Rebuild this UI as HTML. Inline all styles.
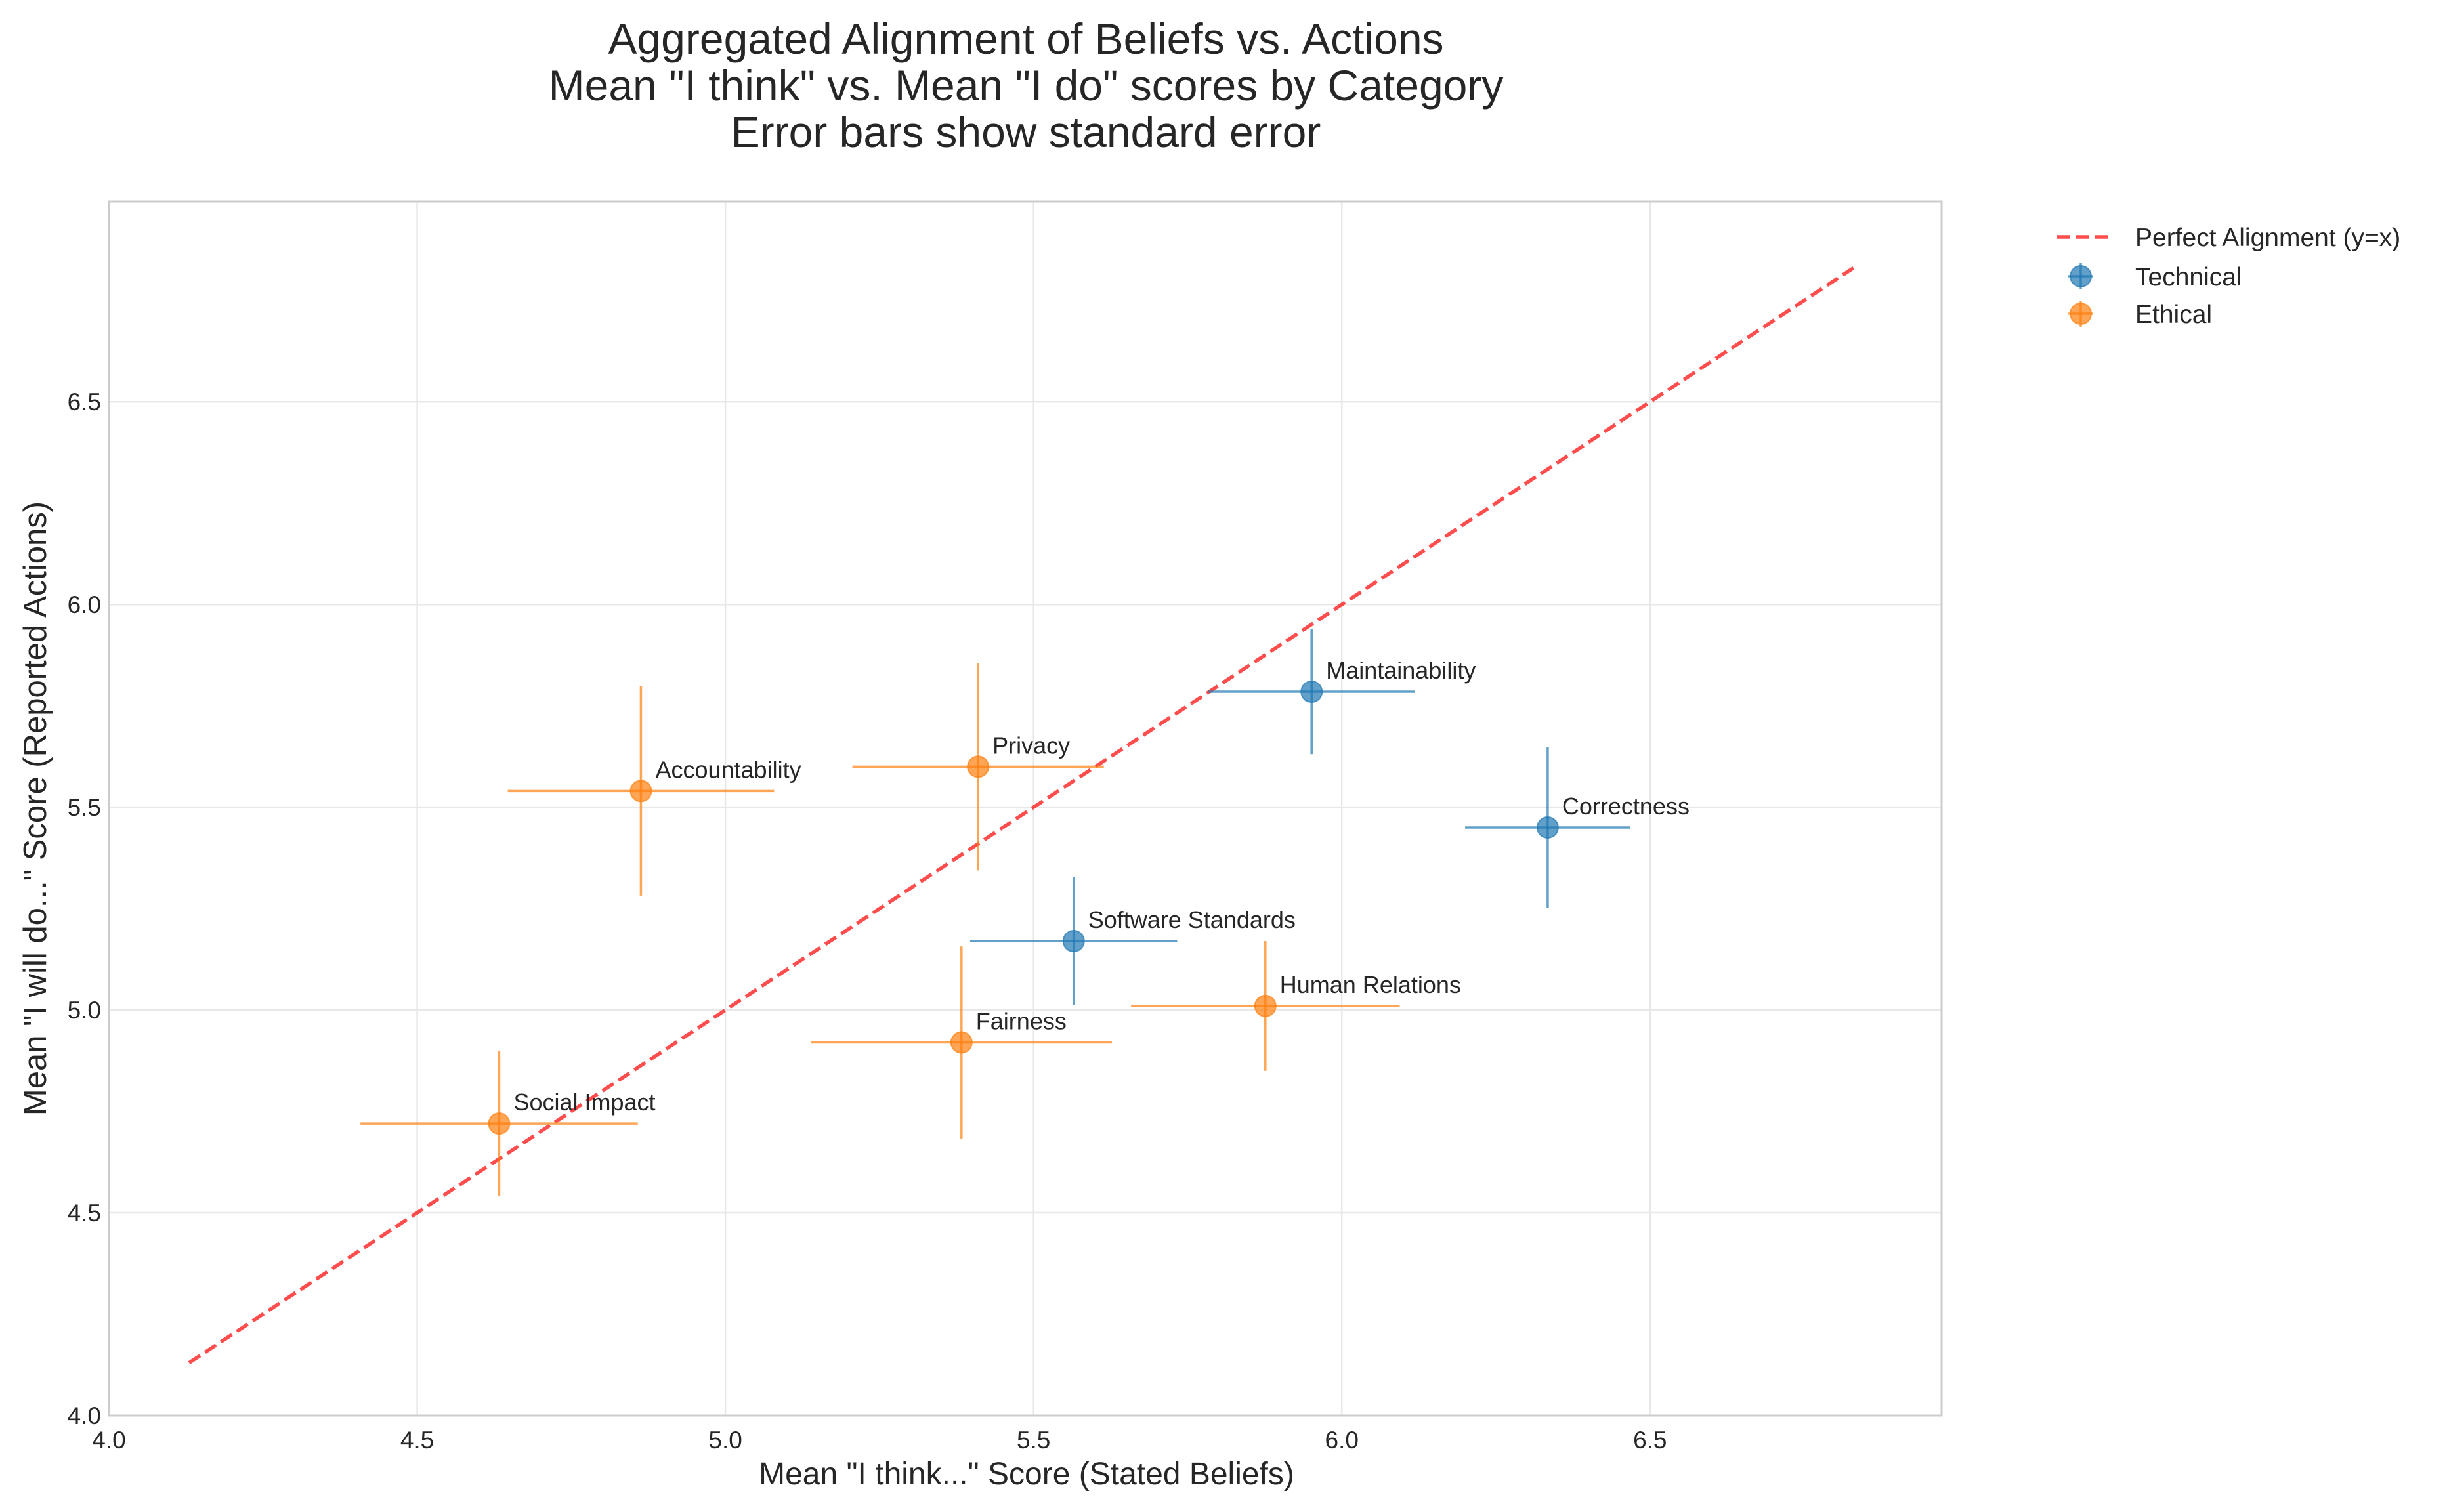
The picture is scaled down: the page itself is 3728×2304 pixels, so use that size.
<!DOCTYPE html>
<html><head><meta charset="utf-8">
<style>
html,body{margin:0;padding:0;background:#fff;}
svg{display:block;font-family:"Liberation Sans",Arial,sans-serif;}
</style></head>
<body>
<svg id="chart" width="3728" height="2304" viewBox="0 0 3728 2304" xmlns="http://www.w3.org/2000/svg">
<g fill="#262626" font-size="66" text-anchor="middle">
<text x="1563" y="82">Aggregated Alignment of Beliefs vs. Actions</text>
<text x="1563" y="153">Mean "I think" vs. Mean "I do" scores by Category</text>
<text x="1563" y="224">Error bars show standard error</text>
</g>
<g id="grid"></g>
<g id="xticks"></g>
<g id="yticks"></g>
<line id="diag" stroke="#ff0000" stroke-opacity="0.7" stroke-width="5.5" stroke-dasharray="20,9"/>
<g id="points"></g>
<rect x="166" y="307" width="2792" height="1850" fill="none" stroke="#cccccc" stroke-width="3"/>
<text x="1564" y="2262" font-size="48" fill="#262626" text-anchor="middle">Mean "I think..." Score (Stated Beliefs)</text>
<text transform="translate(70,1232) rotate(-90)" font-size="49" fill="#262626" text-anchor="middle">Mean "I will do..." Score (Reported Actions)</text>
<g font-size="39" fill="#262626">
<g>
<line x1="3134" y1="361" x2="3215" y2="361" stroke="#ff0000" stroke-opacity="0.7" stroke-width="5.5" stroke-dasharray="20,9"/>
<text x="3253" y="375">Perfect Alignment (y=x)</text></g>
<g>
<line x1="3151" y1="421" x2="3189" y2="421" stroke="#1f77b4" stroke-opacity="0.7" stroke-width="3.5"/>
<line x1="3170" y1="401" x2="3170" y2="441" stroke="#1f77b4" stroke-opacity="0.7" stroke-width="3.5"/>
<circle cx="3170" cy="421" r="16" fill="#1f77b4" fill-opacity="0.7" stroke="#1f77b4" stroke-opacity="0.7" stroke-width="2"/>
<text x="3253" y="435">Technical</text></g>
<g>
<line x1="3151" y1="478" x2="3189" y2="478" stroke="#ff7f0e" stroke-opacity="0.7" stroke-width="3.5"/>
<line x1="3170" y1="458" x2="3170" y2="498" stroke="#ff7f0e" stroke-opacity="0.7" stroke-width="3.5"/>
<circle cx="3170" cy="478" r="16" fill="#ff7f0e" fill-opacity="0.7" stroke="#ff7f0e" stroke-opacity="0.7" stroke-width="2"/>
<text x="3253" y="492">Ethical</text></g>
</g>
</svg>
<script>
const categories = ["Maintainability","Correctness","Software Standards","Privacy","Accountability","Human Relations","Fairness","Social Impact"];
const groups = ["Technical","Technical","Technical","Ethical","Ethical","Ethical","Ethical","Ethical"];
const thinkMeans = [5.951,6.334,5.565,5.41,4.863,5.876,5.383,4.633];
const doMeans = [5.785,5.45,5.17,5.60,5.54,5.01,4.92,4.72];
const thinkErr = [0.168,0.134,0.168,0.204,0.216,0.218,0.244,0.225];
const doErr = [0.154,0.198,0.158,0.256,0.258,0.16,0.237,0.179];
const xTicks = [4.0,4.5,5.0,5.5,6.0,6.5];
const yTicks = [4.0,4.5,5.0,5.5,6.0,6.5];
const diagRange = [4.13,6.83];

const NS="http://www.w3.org/2000/svg";
const X0=166,X1=2958,Y0=2157,Y1=307,XMIN=4.0,XMAX=6.973,YMIN=4.0,YMAX=6.994;
function sx(v){return X0+(v-XMIN)/(XMAX-XMIN)*(X1-X0);}
function sy(v){return Y0-(v-YMIN)/(YMAX-YMIN)*(Y0-Y1);}
function mk(tag,attrs,parent){const e=document.createElementNS(NS,tag);for(const k in attrs)e.setAttribute(k,attrs[k]);parent.appendChild(e);return e;}
const colors={Technical:"#1f77b4",Ethical:"#ff7f0e"};
const grid=document.getElementById('grid'),xt=document.getElementById('xticks'),yt=document.getElementById('yticks');
xTicks.forEach(t=>{
  const l=mk('line',{x1:sx(t),x2:sx(t),y1:Y1,y2:Y0,stroke:'#e8e8e8','stroke-width':2.5},grid);
  
  
  const tx=mk('text',{x:sx(t),y:Y0+50,'font-size':37,fill:'#262626','text-anchor':'middle'},xt);
  tx.textContent=t.toFixed(1);
  
  
});
yTicks.forEach(t=>{
  const l=mk('line',{x1:X0,x2:X1,y1:sy(t),y2:sy(t),stroke:'#e8e8e8','stroke-width':2.5},grid);
  
  
  const tx=mk('text',{x:X0-12,y:sy(t)+13,'font-size':37,fill:'#262626','text-anchor':'end'},yt);
  tx.textContent=t.toFixed(1);
  
  
});
const d=document.getElementById('diag');
d.setAttribute('x1',sx(diagRange[0]));d.setAttribute('y1',sy(diagRange[0]));
d.setAttribute('x2',sx(diagRange[1]));d.setAttribute('y2',sy(diagRange[1]));
const pts=document.getElementById('points');
categories.forEach((c,i)=>{
  const col=colors[groups[i]];
  const g=mk('g',{},pts);
  
  
  const cx=sx(thinkMeans[i]),cy=sy(doMeans[i]);
  mk('line',{x1:sx(thinkMeans[i]-thinkErr[i]),x2:sx(thinkMeans[i]+thinkErr[i]),y1:cy,y2:cy,stroke:col,'stroke-opacity':0.7,'stroke-width':3.5},g);
  mk('line',{x1:cx,x2:cx,y1:sy(doMeans[i]-doErr[i]),y2:sy(doMeans[i]+doErr[i]),stroke:col,'stroke-opacity':0.7,'stroke-width':3.5},g);
  mk('circle',{cx:cx,cy:cy,r:16,fill:col,'fill-opacity':0.7,stroke:col,'stroke-opacity':0.7,'stroke-width':2},g);
  const t=mk('text',{x:cx+22,y:cy-20,'font-size':36,fill:'#262626'},g);
  t.textContent=c;
  
  
});
</script>
</body></html>
